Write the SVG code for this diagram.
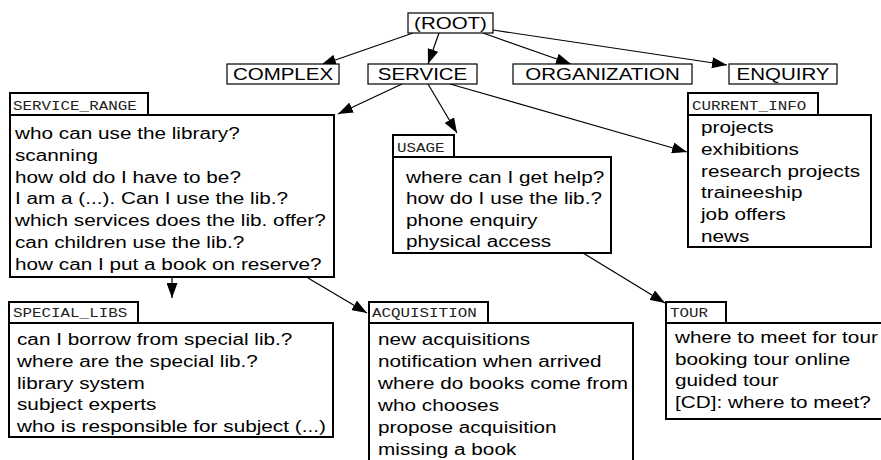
<svg xmlns="http://www.w3.org/2000/svg" width="881" height="460" viewBox="0 0 881 460">
<style>
.bg{fill:#fff}
.top{fill:#fff;stroke:#000;stroke-width:1.2}
.box{fill:#fff;stroke:#000;stroke-width:2}
.t{font-family:"Liberation Sans",Arial,Helvetica,sans-serif;font-size:16.4px;fill:#000}
.c{text-anchor:middle}
.lbl{font-family:"Liberation Mono","Courier New",monospace;font-size:12.8px;fill:#222}
.edge{stroke:#000;stroke-width:1.2;fill:none;marker-end:url(#ah)}
</style>
<defs>
<marker id="ah" markerUnits="userSpaceOnUse" markerWidth="15" markerHeight="11" refX="15" refY="5.5" orient="auto">
<path d="M0,0 L15,5.5 L0,11 z" fill="#000"/>
</marker>
</defs>
<rect class="bg" x="0" y="0" width="881" height="460"/>

<g id="connectors">
<line class="edge" x1="413" y1="33" x2="321" y2="65"/>
<line class="edge" x1="439" y1="33" x2="428" y2="64"/>
<line class="edge" x1="483" y1="33" x2="571" y2="64"/>
<line class="edge" x1="493" y1="30" x2="727" y2="65"/>
<line class="edge" x1="402" y1="84" x2="338" y2="114"/>
<line class="edge" x1="428" y1="84" x2="457" y2="133"/>
<line class="edge" x1="450" y1="84" x2="687" y2="152"/>
<line class="edge" x1="172" y1="278" x2="172" y2="298"/>
<line class="edge" x1="308" y1="278" x2="367" y2="313"/>
<line class="edge" x1="583" y1="253" x2="665" y2="303"/>
</g>

<g id="root">
<rect class="top" x="408" y="13" width="85" height="20"/>
<g transform="translate(450.5 0) scale(1.25 1)"><text class="t c" y="29">(ROOT)</text></g>
</g>
<g id="complex">
<rect class="top" x="227" y="64" width="112" height="20"/>
<g transform="translate(283 0) scale(1.25 1)"><text class="t c" y="80.5">COMPLEX</text></g>
</g>
<g id="service">
<rect class="top" x="368" y="64" width="109" height="20"/>
<g transform="translate(422.5 0) scale(1.25 1)"><text class="t c" y="80.5">SERVICE</text></g>
</g>
<g id="organization">
<rect class="top" x="513" y="64" width="179" height="20"/>
<g transform="translate(602.5 0) scale(1.25 1)"><text class="t c" y="80.5">ORGANIZATION</text></g>
</g>
<g id="enquiry">
<rect class="top" x="729" y="64" width="108" height="20"/>
<g transform="translate(783 0) scale(1.25 1)"><text class="t c" y="80.5">ENQUIRY</text></g>
</g>

<g id="service_range">
<rect class="box" x="10" y="93" width="138" height="22"/>
<rect class="box" x="10" y="115" width="324" height="162"/>
<g transform="translate(13 0) scale(1.24 1)"><text class="lbl" y="110.5">SERVICE_RANGE</text></g>
<g transform="translate(15 0) scale(1.265 1)">
<text class="t" y="139">who can use the library?</text>
<text class="t" y="160.8">scanning</text>
<text class="t" y="182.6">how old do I have to be?</text>
<text class="t" y="204.4">I am a (...). Can I use the lib.?</text>
<text class="t" y="226.2">which services does the lib. offer?</text>
<text class="t" y="248">can children use the lib.?</text>
<text class="t" y="269.8">how can I put a book on reserve?</text>
</g>
</g>

<g id="usage">
<rect class="box" x="393" y="135" width="61" height="22"/>
<rect class="box" x="393" y="157" width="218" height="96"/>
<g transform="translate(397 0) scale(1.24 1)"><text class="lbl" y="152">USAGE</text></g>
<g transform="translate(406 0) scale(1.265 1)">
<text class="t" y="183">where can I get help?</text>
<text class="t" y="204.5">how do I use the lib.?</text>
<text class="t" y="226">phone enquiry</text>
<text class="t" y="247.5">physical access</text>
</g>
</g>

<g id="current_info">
<rect class="box" x="688" y="93" width="130" height="22"/>
<rect class="box" x="688" y="115" width="183" height="132"/>
<g transform="translate(692 0) scale(1.24 1)"><text class="lbl" y="110">CURRENT_INFO</text></g>
<g transform="translate(701 0) scale(1.265 1)">
<text class="t" y="133">projects</text>
<text class="t" y="154.8">exhibitions</text>
<text class="t" y="176.6">research projects</text>
<text class="t" y="198.4">traineeship</text>
<text class="t" y="220.2">job offers</text>
<text class="t" y="242">news</text>
</g>
</g>

<g id="special_libs">
<rect class="box" x="9" y="302" width="129" height="21"/>
<rect class="box" x="9" y="323" width="324" height="114"/>
<g transform="translate(13 0) scale(1.24 1)"><text class="lbl" y="317.5">SPECIAL_LIBS</text></g>
<g transform="translate(17 0) scale(1.265 1)">
<text class="t" y="345">can I borrow from special lib.?</text>
<text class="t" y="366.8">where are the special lib.?</text>
<text class="t" y="388.6">library system</text>
<text class="t" y="410.4">subject experts</text>
<text class="t" y="432">who is responsible for subject (...)</text>
</g>
</g>

<g id="acquisition">
<rect class="box" x="369" y="302" width="119" height="21"/>
<rect class="box" x="369" y="323" width="264" height="150"/>
<g transform="translate(372 0) scale(1.24 1)"><text class="lbl" y="317.5">ACQUISITION</text></g>
<g transform="translate(378 0) scale(1.265 1)">
<text class="t" y="345">new acquisitions</text>
<text class="t" y="367">notification when arrived</text>
<text class="t" y="389">where do books come from</text>
<text class="t" y="411">who chooses</text>
<text class="t" y="433">propose acquisition</text>
<text class="t" y="455">missing a book</text>
</g>
</g>

<g id="tour">
<rect class="box" x="666" y="302" width="60" height="21"/>
<rect class="box" x="666" y="323" width="230" height="96"/>
<g transform="translate(670 0) scale(1.24 1)"><text class="lbl" y="317.5">TOUR</text></g>
<g transform="translate(675 0) scale(1.265 1)">
<text class="t" y="343">where to meet for tour</text>
<text class="t" y="364.7">booking tour online</text>
<text class="t" y="386.3">guided tour</text>
<text class="t" y="408">[CD]: where to meet?</text>
</g>
</g>
</svg>
